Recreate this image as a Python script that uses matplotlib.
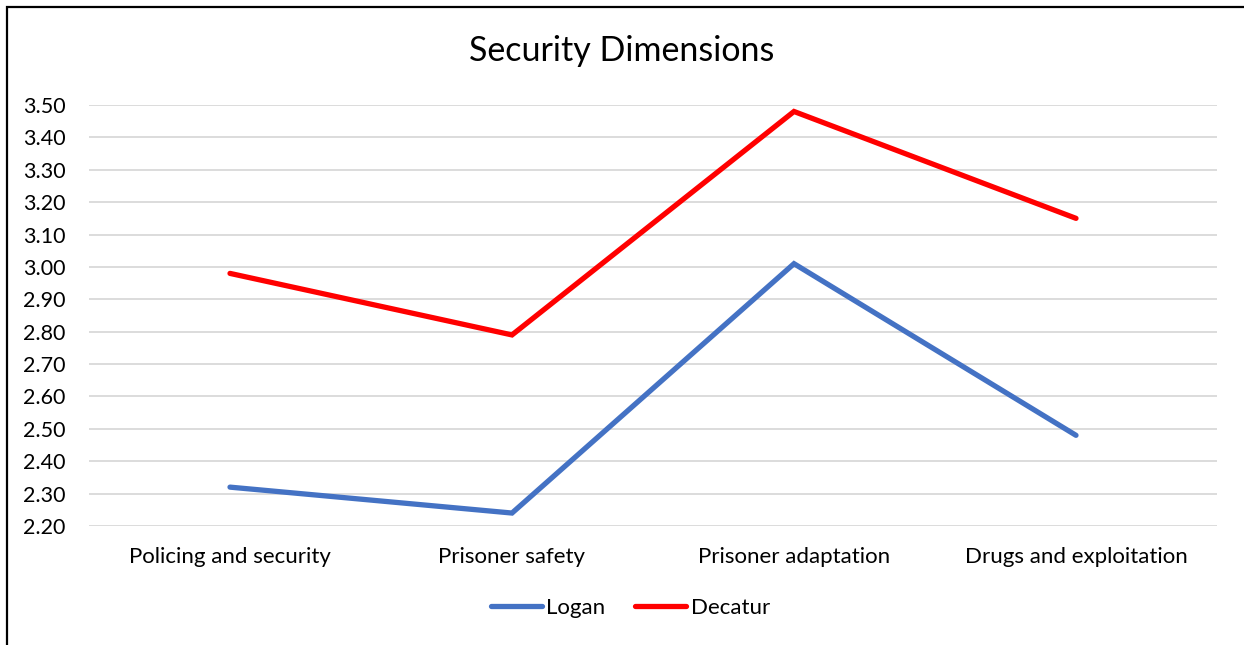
import matplotlib.pyplot as plt
from matplotlib.patches import Rectangle

categories = ['Policing and security', 'Prisoner safety', 'Prisoner adaptation', 'Drugs and exploitation']
logan = [2.32, 2.24, 3.01, 2.48]
decatur = [2.98, 2.79, 3.48, 3.15]
y_ticks = [2.20, 2.30, 2.40, 2.50, 2.60, 2.70, 2.80, 2.90, 3.00, 3.10, 3.20, 3.30, 3.40, 3.50]

plt.rcParams['font.family'] = ['Lato', 'DejaVu Sans']

W, H = 1244, 645
fig = plt.figure(figsize=(W / 100, H / 100), dpi=100)
ax = fig.add_axes([89 / W, 1 - 526 / H, (1217 - 89) / W, (526 - 105) / H])

x = range(len(categories))
ax.plot(x, logan, color='#4472C4', lw=3.8, solid_capstyle='round', solid_joinstyle='miter', label='Logan', zorder=3)
ax.plot(x, decatur, color='#FF0000', lw=3.8, solid_capstyle='round', solid_joinstyle='miter', label='Decatur', zorder=3)

ax.set_xlim(-0.5, len(categories) - 0.5)
ax.set_ylim(2.20, 3.50)
ax.set_yticks(y_ticks)
ax.set_yticklabels([f'{v:.2f}' for v in y_ticks])
ax.set_xticks(list(x))
ax.set_xticklabels(categories, fontsize=16)
ax.tick_params(axis='both', length=0, colors='black')
ax.tick_params(axis='y', pad=17, labelsize=15.5)
ax.tick_params(axis='x', pad=15)
ax.grid(axis='y', color='#d9d9d9', lw=1.3)
for s in ax.spines.values():
    s.set_visible(False)

fig.text(0.5, 1 - 51 / H, 'Security Dimensions', ha='center', va='center', fontsize=24.5)

ax.legend(loc='center', bbox_to_anchor=(0.48, (526 - 608) / (526 - 105)), ncol=2, frameon=False,
          fontsize=16, handlelength=2.3, handletextpad=0.2, columnspacing=1.35)

# chart frame
fig.patches.append(Rectangle((6.5 / W, -0.1), 1.2, 1 - 7 / H + 0.1, transform=fig.transFigure,
                             fill=False, ec='black', lw=1.6))

fig.savefig('out.png', dpi=100)
